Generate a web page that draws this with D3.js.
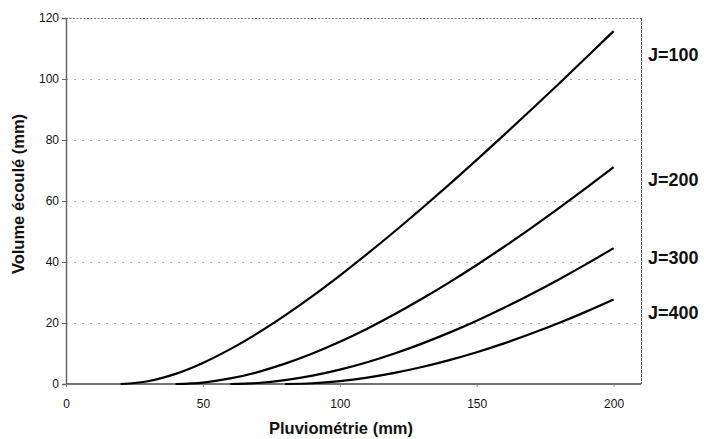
<!DOCTYPE html>
<html>
<head>
<meta charset="utf-8">
<script src="https://cdn.jsdelivr.net/npm/d3@7"></script>
<style>
  body { margin: 0; background: #fff; }
  svg { display: block; font-family: "Liberation Sans", Arial, sans-serif; }
</style>
</head>
<body>
<svg id="chart" width="704" height="439"></svg>
<script>
// Data
const seriesNames = ["J=100", "J=200", "J=300", "J=400"];
const pluie100 = [20, 30, 40, 50, 60, 70, 80, 90, 100, 110, 120, 130, 140, 150, 160, 170, 180, 190, 200];
const vol100   = [0, 0.91, 3.33, 6.92, 11.43, 16.67, 22.5, 28.82, 35.56, 42.63, 50, 57.62, 65.45, 73.48, 81.67, 90, 98.46, 107.04, 115.71];
const pluie200 = [40, 50, 60, 70, 80, 90, 100, 110, 120, 130, 140, 150, 160, 170, 180, 190, 200];
const vol200   = [0, 0.48, 1.82, 3.91, 6.67, 10, 13.85, 18.15, 22.86, 27.93, 33.33, 39.03, 45, 51.21, 57.65, 64.29, 71.11];
const pluie300 = [60, 70, 80, 90, 100, 110, 120, 130, 140, 150, 160, 170, 180, 190, 200];
const vol300   = [0, 0.32, 1.25, 2.73, 4.71, 7.14, 10, 13.24, 16.84, 20.77, 25, 29.51, 34.29, 39.30, 44.55];
const pluie400 = [80, 90, 100, 110, 120, 130, 140, 150, 160, 170, 180, 190, 200];
const vol400   = [0, 0.24, 0.95, 2.09, 3.64, 5.56, 7.83, 10.43, 13.33, 16.53, 20, 23.73, 27.69];
const xTicks = [0, 50, 100, 150, 200];
const yTicks = [0, 20, 40, 60, 80, 100, 120];
const xLabel = "Pluviométrie (mm)";
const yLabel = "Volume écoulé (mm)";

const series = [
  { name: seriesNames[0], x: pluie100, y: vol100 },
  { name: seriesNames[1], x: pluie200, y: vol200 },
  { name: seriesNames[2], x: pluie300, y: vol300 },
  { name: seriesNames[3], x: pluie400, y: vol400 }
];

const svg = d3.select("#chart");
const L = 66, R = 641, T = 18, B = 384;
const x = d3.scaleLinear().domain([0, 210]).range([L, R]);
const y = d3.scaleLinear().domain([0, 120]).range([B, T]);

// gridlines
svg.append("g").selectAll("line").data(yTicks.filter(d => d > 0 && d < 120)).join("line")
  .attr("x1", L).attr("x2", R)
  .attr("y1", d => y(d) + 0.5).attr("y2", d => y(d) + 0.5)
  .attr("stroke", "#aaa").attr("stroke-width", 1).attr("stroke-dasharray", "2,6");

// top & right borders (dotted)
svg.append("line").attr("x1", L).attr("x2", R).attr("y1", y(120) + 0.5).attr("y2", y(120) + 0.5)
  .attr("stroke", "#777").attr("stroke-dasharray", "2,1.5");
svg.append("line").attr("x1", R + 0.5).attr("x2", R + 0.5).attr("y1", T).attr("y2", B)
  .attr("stroke", "#555").attr("stroke-dasharray", "3,1");

// axes
const yAxis = d3.axisLeft(y).tickValues(yTicks).tickSize(4).tickPadding(3).tickFormat(d3.format("d"));
const gy = svg.append("g").attr("transform", `translate(${L},0)`).call(yAxis);
gy.select(".domain").attr("stroke", "#666").attr("stroke-width", 1.5);
gy.selectAll(".tick line").attr("stroke", "#666");
gy.selectAll("text").attr("font-size", 12).attr("fill", "#111")
  .attr("font-family", "'Liberation Sans', Arial, sans-serif");

const xAxis = d3.axisBottom(x).tickValues(xTicks).tickSize(3).tickPadding(12).tickFormat(d3.format("d"));
const gx = svg.append("g").attr("transform", `translate(0,${B})`).call(xAxis);
gx.select(".domain").attr("stroke", "#444").attr("stroke-width", 1.5).attr("d", `M${L},0H${R}`);
gx.selectAll(".tick line").attr("stroke", "#888");
gx.selectAll("text").attr("font-size", 12).attr("fill", "#111")
  .attr("font-family", "'Liberation Sans', Arial, sans-serif");

// lines
const line = d3.line().x(d => x(d[0])).y(d => y(d[1])).curve(d3.curveMonotoneX);
svg.append("g").selectAll("path").data(series).join("path")
  .attr("d", s => line(s.x.map((v, i) => [v, s.y[i]])))
  .attr("fill", "none").attr("stroke", "#000").attr("stroke-width", 2.2);

// right labels
const labelY = [108, 67, 41.5, 23.5];
svg.append("g").selectAll("text").data(series).join("text")
  .attr("x", 648).attr("y", (s, i) => y(labelY[i]))
  .attr("dy", "0.35em")
  .attr("font-size", 18).attr("font-weight", "bold").attr("fill", "#111")
  .text(s => s.name);

// axis titles
svg.append("text").attr("x", 341).attr("y", 434).attr("text-anchor", "middle")
  .attr("font-size", 16.5).attr("font-weight", "bold").attr("fill", "#111").text(xLabel);
svg.append("text").attr("transform", "translate(24,194) rotate(-90)").attr("text-anchor", "middle")
  .attr("font-size", 16.5).attr("font-weight", "bold").attr("fill", "#111").text(yLabel);
</script>
</body>
</html>
